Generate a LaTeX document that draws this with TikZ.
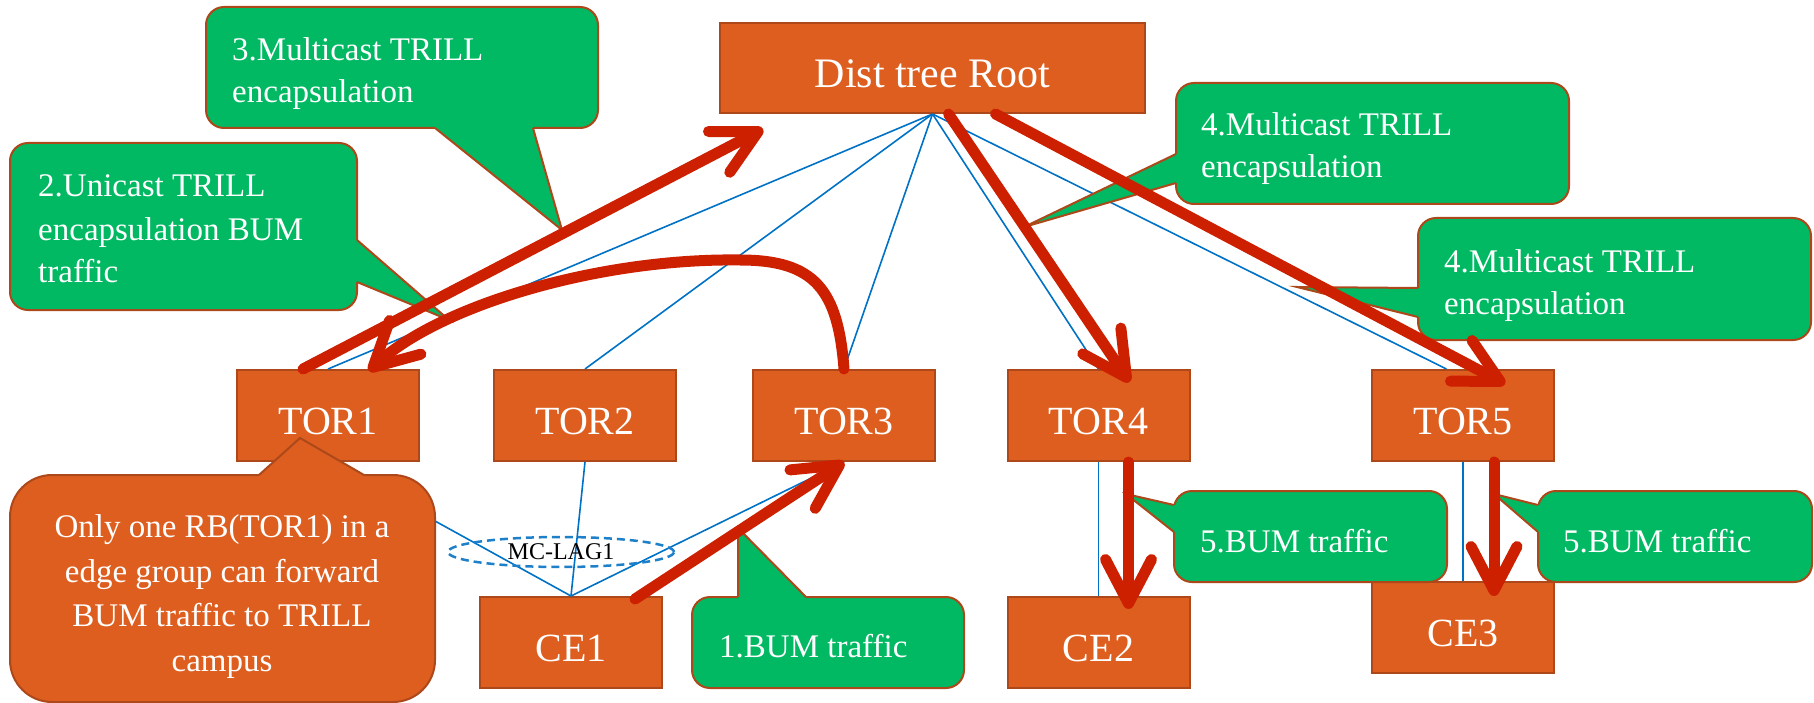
\documentclass[tikz,border=0pt]{standalone}
\usepackage{fontspec}
\setmainfont{Liberation Serif}
\usetikzlibrary{arrows.meta,calc,shapes.geometric}

\definecolor{boxorange}{RGB}{221,94,31}
\definecolor{boxedge}{RGB}{172,72,26}
\definecolor{callgreen}{RGB}{0,185,98}
\definecolor{flowred}{RGB}{205,32,0}
\definecolor{linkblue}{RGB}{0,114,198}
\definecolor{lagblue}{RGB}{30,128,200}

\begin{document}
\begin{tikzpicture}[x=1pt,y=-1pt,
  nodebox/.style={draw=boxedge, line width=2pt, fill=boxorange, text=white,
    minimum width=182pt, minimum height=91pt, inner sep=0pt,
    text height=37.5pt, text depth=0pt,
    font=\fontsize{40}{48}\selectfont},
  gbody/.style={draw=boxedge, line width=2pt, fill=callgreen, rounded corners=18pt, inner sep=0pt},
  obody/.style={draw=boxedge, line width=2pt, fill=boxorange, rounded corners=42pt, inner sep=0pt},
  tipedge/.style={draw=boxedge, line width=2pt, line join=miter},
  gtext/.style={text=white, align=left, inner sep=0pt, font=\fontsize{33}{42}\selectfont},
  otext/.style={text=white, align=center, inner sep=0pt, font=\fontsize{33}{44.5}\selectfont},
  link/.style={draw=linkblue, line width=1.6pt},
  flow/.style={draw=flowred, line width=11pt, line cap=round, line join=round,
    -{Straight Barb[length=44pt,width=46pt,round]}},
]
\useasboundingbox (0,0) rectangle (1814,703);

% devices
\node[nodebox, minimum width=425pt, minimum height=90pt, text height=40pt,
  font=\fontsize{42}{50}\selectfont] (root) at (932.5,68) {Dist tree Root};
\node[nodebox] (tor1) at (328,415.5) {TOR1};
\node[nodebox] (tor2) at (585,415.5) {TOR2};
\node[nodebox] (tor3) at (844,415.5) {TOR3};
\node[nodebox] (tor4) at (1098.5,415.5) {TOR4};
\node[nodebox] (tor5) at (1463,415.5) {TOR5};
\node[nodebox] (ce1) at (571,642.5) {CE1};
\node[nodebox] (ce2) at (1098.5,642.5) {CE2};
\node[nodebox] (ce3) at (1463,627.5) {CE3};

% physical links
\draw[link] (root.south) -- (tor1.north);
\draw[link] (root.south) -- (tor2.north);
\draw[link] (root.south) -- (tor3.north);
\draw[link] (root.south) -- (tor4.north);
\draw[link] (root.south) -- ($(tor5.north)!0.18!(tor5.north west)$);
\draw[link] (tor1.south) -- (ce1.north);
\draw[link] (tor2.south) -- (ce1.north);
\draw[link] (tor3.south) -- (ce1.north);
\draw[link] (tor4.south) -- (ce2.north);
\draw[link] (tor5.south) -- (ce3.north);

% multi-chassis link aggregation group
\node[ellipse, draw=lagblue, dash pattern=on 8pt off 5pt, line width=2.5pt,
  minimum width=226pt, minimum height=30pt, inner sep=0pt,
  font=\fontsize{24}{28}\selectfont] (lag) at (561,552) {MC-LAG1};

% callout 3 (text anchored at the baseline of its last line)
\node[gbody, minimum width=392pt, minimum height=121pt] (c3) at (402,67.5) {};
\fill[callgreen] (435,122) -- (435,128) -- (562,230) -- (533,128) -- (533,122) -- cycle;
\draw[tipedge] (435,128) -- (562,230) -- (533,128);
\node[gtext, anchor=base west] (c3t) at (232,103) {3.Multicast TRILL\\encapsulation};

% callout 2
\node[gbody, minimum width=347pt, minimum height=167pt] (c2) at (183.5,226.5) {};
\fill[callgreen] (351,240) -- (357,240) -- (449,320) -- (357,282) -- (351,282) -- cycle;
\draw[tipedge] (357,240) -- (449,320) -- (357,282);
\node[gtext, anchor=base west, font=\fontsize{33}{43}\selectfont] (c2t) at (38,283) {2.Unicast TRILL\\encapsulation BUM\\traffic};

% callout 4 (to TOR4)
\node[gbody, minimum width=393pt, minimum height=121pt] (c4a) at (1372.5,143.5) {};
\fill[callgreen] (1182,154) -- (1176,154) -- (1024,227) -- (1176,183) -- (1182,183) -- cycle;
\draw[tipedge] (1176,154) -- (1024,227) -- (1176,183);
\node[gtext, anchor=base west] (c4at) at (1201,178) {4.Multicast TRILL\\encapsulation};

% callout 4 (to TOR5)
\node[gbody, minimum width=393pt, minimum height=122pt] (c4b) at (1614.5,279) {};
\fill[callgreen] (1424,288) -- (1418,288) -- (1297,287) -- (1418,317) -- (1424,317) -- cycle;
\draw[tipedge] (1418,288) -- (1297,287) -- (1418,317);
\node[gtext, anchor=base west] (c4bt) at (1444,314) {4.Multicast TRILL\\encapsulation};

% callout 1
\node[gbody, minimum width=272pt, minimum height=91pt] (c1) at (828,642.5) {};
\fill[callgreen] (738,603) -- (738,597) -- (738,528) -- (806,597) -- (806,603) -- cycle;
\draw[tipedge] (738,597) -- (738,528) -- (806,597);
\node[gtext, anchor=base west] (c1t) at (719,657) {1.BUM traffic};

% callouts 5
\node[gbody, minimum width=273pt, minimum height=91pt] (c5a) at (1310.5,536.5) {};
\fill[callgreen] (1180,505) -- (1174,505) -- (1126,494) -- (1174,532) -- (1180,532) -- cycle;
\draw[tipedge] (1174,505) -- (1126,494) -- (1174,532);
\node[gtext, anchor=base west] (c5at) at (1200,552) {5.BUM traffic};

\node[gbody, minimum width=274pt, minimum height=91pt] (c5b) at (1675,536.5) {};
\fill[callgreen] (1544,505) -- (1538,505) -- (1494,494) -- (1538,532) -- (1544,532) -- cycle;
\draw[tipedge] (1538,505) -- (1494,494) -- (1538,532);
\node[gtext, anchor=base west] (c5bt) at (1563,552) {5.BUM traffic};

% designated forwarder note
\node[obody, minimum width=425pt, minimum height=227pt] (note) at (222.5,588.5) {};
\fill[boxorange] (259,481) -- (259,475) -- (300,438) -- (364,475) -- (364,481) -- cycle;
\draw[tipedge] (259,475) -- (300,438) -- (364,475);
\node[otext, anchor=base] (notet) at (222,671) {Only one RB(TOR1) in a\\edge group can forward\\BUM traffic to TRILL\\campus};

% BUM traffic flow
\draw[flow] ($(ce1.north east)+(-28,3)$) -- (tor3.south);
\draw[flow] ($(tor1.north)+(-25,0)$) -- ($(root.south west)+(44,15)$);
\draw[flow] (tor3.north) .. controls (838,290) and (815,260) .. (740,260)
  .. controls (600,258) and (440,305) .. ($(tor1.north east)+(-51,2)$);
\draw[flow] ($(root.south)+(16,0)$) -- ($(tor4.north)+(31,13)$);
\draw[flow] ($(root.south)+(63,0)$) -- ($(tor5.north)+(42,15)$);
\draw[flow] ($(tor4.south)+(30,0)$) -- ($(ce2.north)+(30,13)$);
\draw[flow] ($(tor5.south)+(31,0)$) -- ($(ce3.north)+(31,15)$);
\end{tikzpicture}
\end{document}
